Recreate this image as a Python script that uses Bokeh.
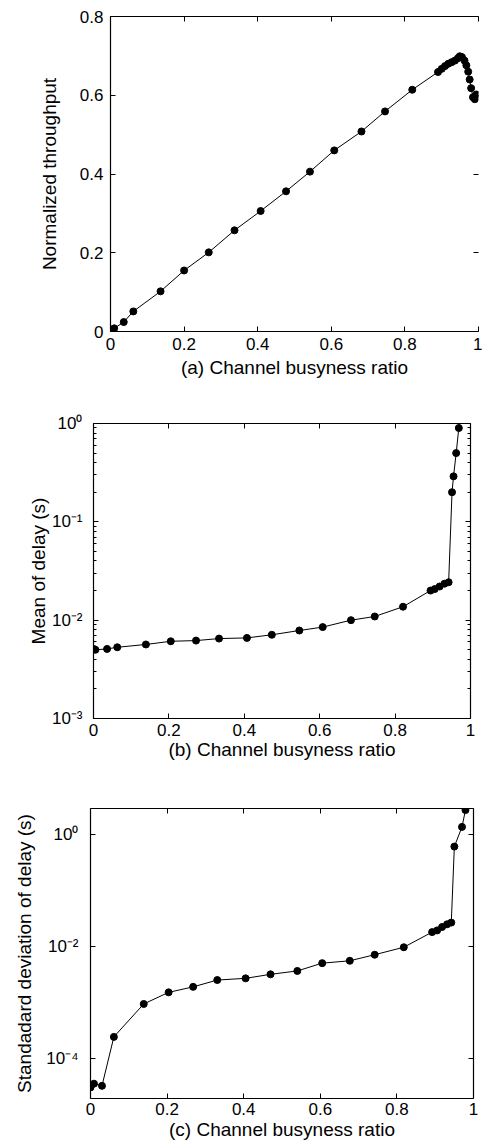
from bokeh.plotting import figure
from bokeh.layouts import column
from bokeh.models import LinearAxis, LogAxis, FixedTicker, Range1d, CustomLabelingPolicy
from bokeh.embed import file_html
from bokeh.resources import INLINE

FONT = "Liberation Sans"

# ---------------- data ----------------
busy_a = [0.0, 0.005, 0.01, 0.036, 0.062, 0.136, 0.200, 0.267, 0.337, 0.408, 0.477,
          0.542, 0.608, 0.682, 0.746, 0.820, 0.890, 0.900, 0.909, 0.918, 0.927, 0.936,
          0.944, 0.949, 0.955, 0.962, 0.967, 0.972, 0.976, 0.980, 0.985, 0.990, 0.994]
thr_a = [0.002, 0.005, 0.008, 0.024, 0.051, 0.102, 0.155, 0.201, 0.257, 0.306, 0.356,
         0.406, 0.460, 0.508, 0.559, 0.614, 0.659, 0.667, 0.674, 0.680, 0.684, 0.688,
         0.694, 0.699, 0.697, 0.688, 0.676, 0.660, 0.640, 0.618, 0.595, 0.590, 0.602]

busy_b = [0.0, 0.005, 0.036, 0.063, 0.139, 0.205, 0.272, 0.333, 0.407, 0.473, 0.546,
          0.608, 0.683, 0.746, 0.821, 0.894, 0.905, 0.918, 0.931, 0.942, 0.951, 0.955,
          0.962, 0.969, 0.976]
mean_b = [5.1e-3, 5.0e-3, 5.1e-3, 5.3e-3, 5.66e-3, 6.1e-3, 6.2e-3, 6.5e-3, 6.6e-3,
          7.1e-3, 7.85e-3, 8.5e-3, 1.0e-2, 1.09e-2, 1.37e-2, 2.0e-2, 2.07e-2, 2.2e-2,
          2.35e-2, 2.43e-2, 0.2, 0.29, 0.5, 0.9, 1.3]

busy_c = [0.0, 0.009, 0.030, 0.061, 0.139, 0.204, 0.268, 0.331, 0.405, 0.470, 0.540,
          0.605, 0.677, 0.742, 0.818, 0.892, 0.905, 0.918, 0.931, 0.942, 0.950, 0.970,
          0.979]
std_c = [3.0e-5, 3.5e-5, 3.2e-5, 2.4e-4, 9.3e-4, 1.5e-3, 1.88e-3, 2.49e-3, 2.67e-3,
         3.15e-3, 3.62e-3, 4.99e-3, 5.5e-3, 7.06e-3, 9.6e-3, 1.79e-2, 1.92e-2, 2.21e-2,
         2.47e-2, 2.65e-2, 0.605, 1.36, 2.72]

x_ticks = [0, 0.2, 0.4, 0.6, 0.8, 1]
x_tick_labels = ["0", "0.2", "0.4", "0.6", "0.8", "1"]
a_y_ticks = [0, 0.2, 0.4, 0.6, 0.8]
a_y_tick_labels = ["0", "0.2", "0.4", "0.6", "0.8"]
b_y_ticks = [0.001, 0.01, 0.1, 1]
b_y_tick_labels = ["10\u207b\u00b3", "10\u207b\u00b2", "10\u207b\u00b9", "10\u2070"]
c_y_ticks = [0.0001, 0.01, 1]
c_y_tick_labels = ["10\u207b\u2074", "10\u207b\u00b2", "10\u2070"]

a_xlabel = "(a) Channel busyness ratio"
a_ylabel = "Normalized throughput"
b_xlabel = "(b) Channel busyness ratio"
b_ylabel = "Mean of delay (s)"
c_xlabel = "(c) Channel busyness ratio"
c_ylabel = "Standadard deviation of delay (s)"

b_minor = [m * 10 ** k for k in (-3, -2, -1) for m in range(2, 10)]

TICK_FS = "17px"
LABEL_FS = "19px"


def style_axis(ax, ticks, labels, minor=None, show_labels=True, show_line=True,
               standoff=6, label=None, label_standoff=4):
    ax.ticker = FixedTicker(ticks=ticks, minor_ticks=minor or [])
    ax.major_label_overrides = dict(zip(ticks, labels))
    ax.major_tick_in = 5
    ax.major_tick_out = 0
    ax.minor_tick_in = 3 if minor else 0
    ax.minor_tick_out = 0
    ax.major_tick_line_color = "black"
    ax.minor_tick_line_color = "black"
    ax.axis_line_color = "black" if show_line else None
    ax.axis_line_width = 1.2
    ax.major_label_text_font = FONT
    ax.major_label_text_color = "black"
    if show_labels:
        ax.major_label_text_font_size = TICK_FS
        ax.major_label_standoff = standoff
    else:
        ax.major_label_policy = CustomLabelingPolicy(code="return new Set()")
        ax.major_label_text_font_size = "1px"
        ax.major_label_standoff = 0
    if label:
        ax.axis_label = label
        ax.axis_label_text_font = FONT
        ax.axis_label_text_font_size = LABEL_FS
        ax.axis_label_text_font_style = "normal"
        ax.axis_label_text_color = "black"
        ax.axis_label_standoff = label_standoff


def make_fig(width, height, x_range, y_range, y_type, borders):
    p = figure(width=width, height=height, x_range=x_range, y_range=y_range,
               y_axis_type=y_type, output_backend="svg", toolbar_location=None,
               x_axis_location=None, y_axis_location=None,
               min_border_left=borders[0], min_border_right=borders[1],
               min_border_top=borders[2], min_border_bottom=borders[3])
    p.frame_align = False
    p.xgrid.visible = False
    p.ygrid.visible = False
    p.outline_line_color = None
    p.background_fill_color = "white"
    p.border_fill_color = "white"
    return p


# ---------------- (a) ----------------
pa = make_fig(482, 388, Range1d(0, 1), Range1d(0, 0.8), "linear", (110, 0, 16, 57))
ax = LinearAxis(); style_axis(ax, x_ticks, x_tick_labels, label=a_xlabel, standoff=6, label_standoff=4)
pa.add_layout(ax, "below")
ax = LinearAxis(); style_axis(ax, x_ticks, x_tick_labels, show_labels=False)
pa.add_layout(ax, "above")
ax = LinearAxis(); style_axis(ax, a_y_ticks, a_y_tick_labels, label=a_ylabel, standoff=7, label_standoff=17)
pa.add_layout(ax, "left")
ax = LinearAxis(); style_axis(ax, a_y_ticks, a_y_tick_labels, show_labels=False, show_line=False)
pa.add_layout(ax, "right")
pa.line(busy_a, thr_a, line_color="black", line_width=1)
pa.scatter(busy_a, thr_a, marker="circle", size=7, color="black")

# ---------------- (b) ----------------
pb = make_fig(482, 382, Range1d(0, 1), Range1d(0.001, 1), "log", (93, 12, 35, 52))
ax = LinearAxis(); style_axis(ax, x_ticks, x_tick_labels, label=b_xlabel, standoff=5, label_standoff=0)
pb.add_layout(ax, "below")
ax = LinearAxis(); style_axis(ax, x_ticks, x_tick_labels, show_labels=False)
pb.add_layout(ax, "above")
ax = LogAxis(); style_axis(ax, b_y_ticks, b_y_tick_labels, minor=b_minor, label=b_ylabel, standoff=11, label_standoff=0)
pb.add_layout(ax, "left")
ax = LogAxis(); style_axis(ax, b_y_ticks, b_y_tick_labels, minor=b_minor, show_labels=False)
pb.add_layout(ax, "right")
pb.line(busy_b, mean_b, line_color="black", line_width=1)
pb.scatter(busy_b, mean_b, marker="circle", size=7, color="black")

# ---------------- (c) ----------------
pc = make_fig(482, 375, Range1d(0, 1), Range1d(1.9e-5, 2.9), "log", (90, 9, 38, 47))
ax = LinearAxis(); style_axis(ax, x_ticks, x_tick_labels, label=c_xlabel, standoff=4, label_standoff=1)
pc.add_layout(ax, "below")
ax = LinearAxis(); style_axis(ax, x_ticks, x_tick_labels, show_labels=False)
pc.add_layout(ax, "above")
ax = LogAxis(); style_axis(ax, c_y_ticks, c_y_tick_labels, label=c_ylabel, standoff=12, label_standoff=8)
pc.add_layout(ax, "left")
ax = LogAxis(); style_axis(ax, c_y_ticks, c_y_tick_labels, show_labels=False)
pc.add_layout(ax, "right")
pc.line(busy_c, std_c, line_color="black", line_width=1)
pc.scatter(busy_c, std_c, marker="circle", size=7, color="black")

layout = column(pa, pb, pc, spacing=0)
open("out.html", "w").write(file_html(layout, INLINE))
